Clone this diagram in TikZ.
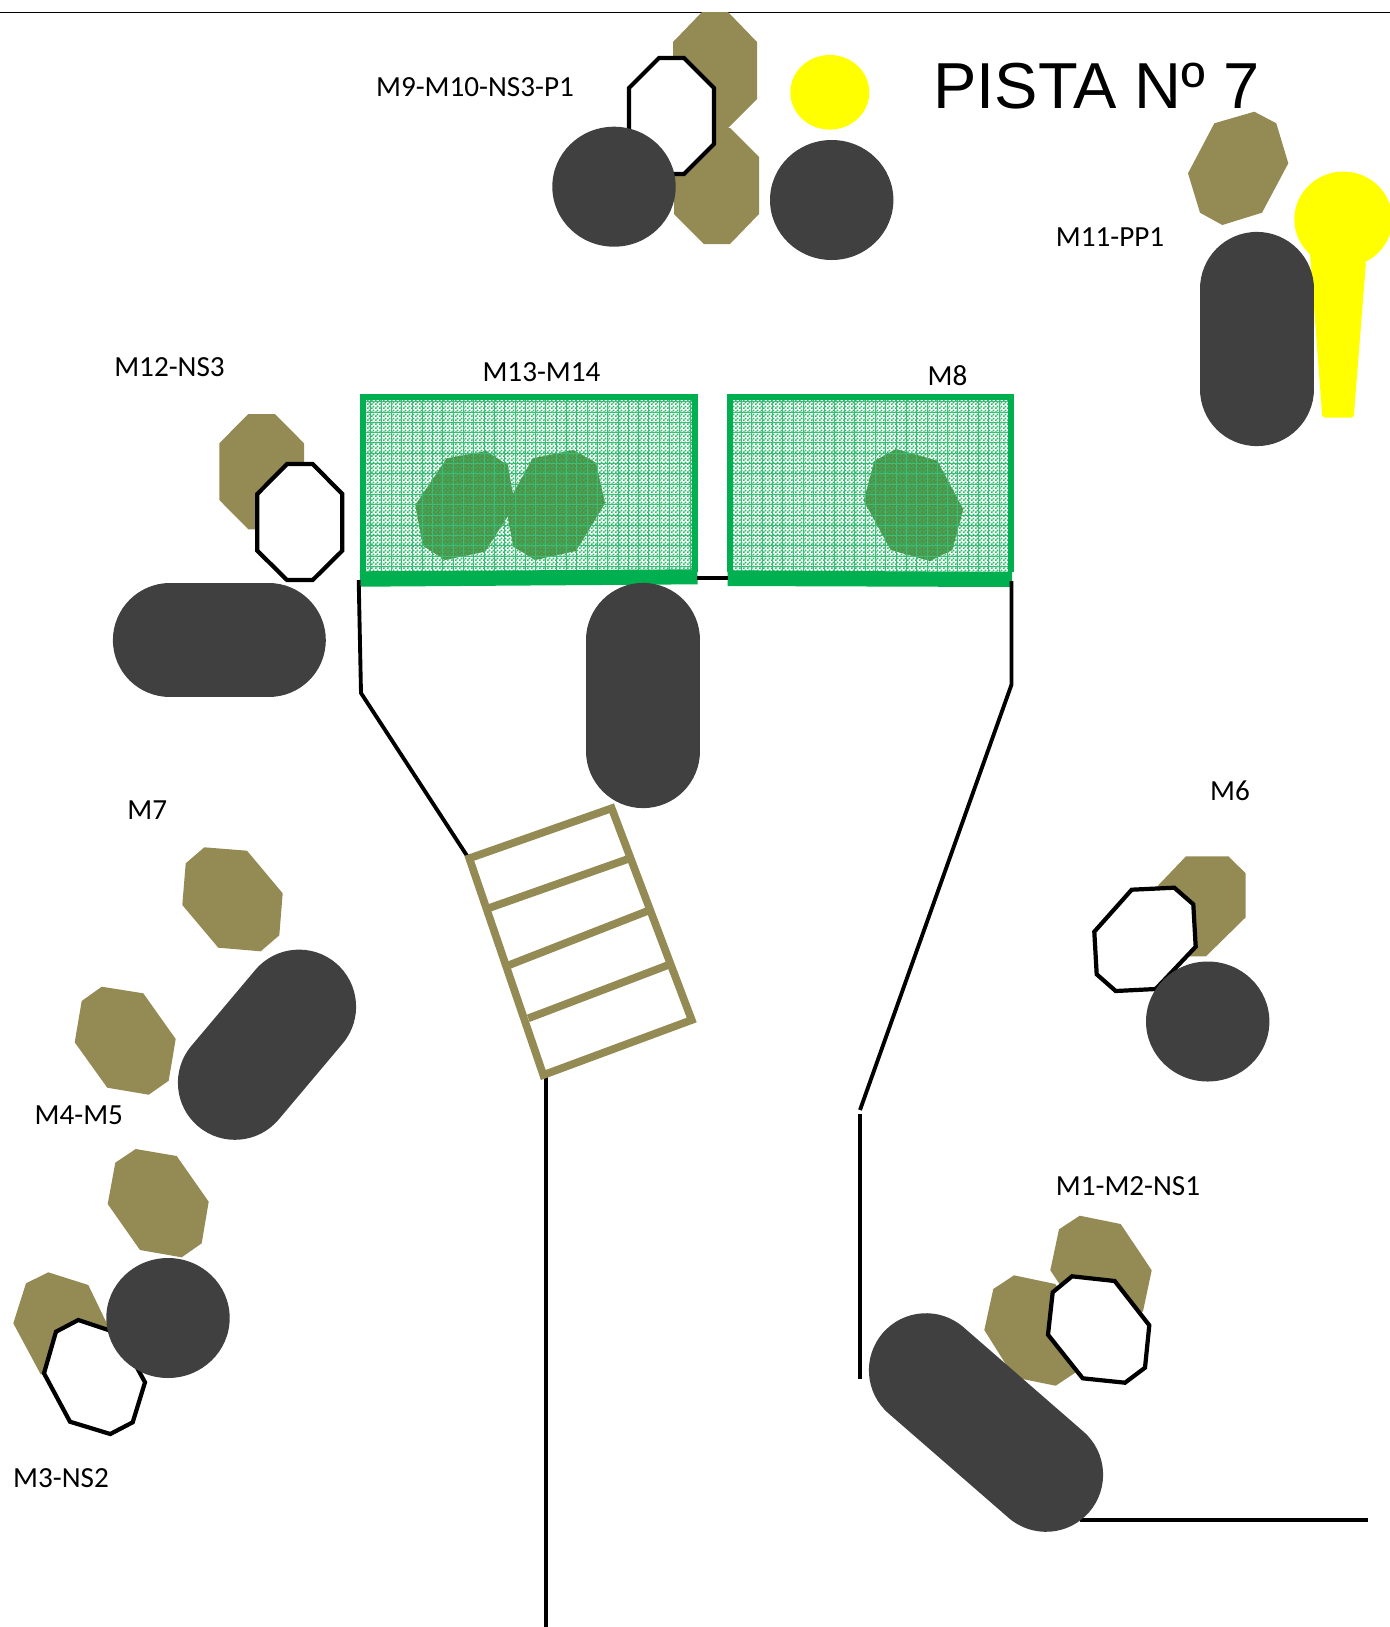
\documentclass[tikz,border=0pt]{standalone}
\usepackage{fontspec}
\setmainfont{Carlito}
\newfontfamily\titlefont{Liberation Sans}
\usepackage{xcolor}
\usetikzlibrary{positioning, patterns}
\definecolor{myolive}{HTML}{948A54}
\definecolor{myleaf}{HTML}{5C8A42}
\definecolor{mydark}{HTML}{404040}
\definecolor{mygreen}{HTML}{00B050}
\definecolor{mycheck}{HTML}{28BC68}
\definecolor{mygrid}{HTML}{3DBB78}
\definecolor{mysun}{RGB}{255,255,0}
\pgfdeclarepatternformonly{finecheck}{\pgfqpoint{0pt}{0pt}}{\pgfqpoint{2.3pt}{2.3pt}}{\pgfqpoint{2.3pt}{2.3pt}}{
  \pgfpathrectangle{\pgfqpoint{0pt}{0pt}}{\pgfqpoint{1.15pt}{1.15pt}}
  \pgfpathrectangle{\pgfqpoint{1.15pt}{1.15pt}}{\pgfqpoint{1.15pt}{1.15pt}}
  \pgfusepath{fill}
}

\begin{document}
\begin{tikzpicture}[x=0.02cm, y=-0.02cm,
    olive/.style={fill=myolive},
    leaf/.style={fill=myleaf},
    ring/.style={draw=black, fill=white, line width=2.4pt, line join=miter},
    wall/.style={draw=black, line width=2.2pt},
    rung/.style={draw=myolive, line width=4.4pt},
    pill/.style={draw=mydark, line width=65pt, line cap=round},
    ball/.style={fill=mydark},
    field/.style={draw=mygreen, line width=3.4pt},
    bar/.style={fill=mygreen},
    tag/.style={font=\fontsize{16.6}{20}\selectfont, inner sep=0pt}]
    \useasboundingbox (0, 0) rectangle (1390, 1627);
    \draw[black, line width=0.8pt] (0, 12.5) -- (1390, 12.5);

    \fill[olive] (702, 12) -- (728, 12) -- (757, 42) -- (757, 99) -- (728, 128) -- (702, 128) -- (673, 99) -- (673, 42) -- cycle;
    \fill[olive] (704, 128) -- (730, 128) -- (759, 157) -- (759, 214) -- (730, 244) -- (704, 244) -- (674, 214) -- (674, 157) -- cycle;
    \filldraw[ring] (659, 58) -- (684, 58) -- (714, 88) -- (714, 144) -- (684, 174) -- (659, 174) -- (629, 144) -- (629, 88) -- cycle;
    \fill[ball] (614, 186.7) ellipse [x radius=61.7, y radius=60];
    \fill[ball] (831.7, 200) ellipse [x radius=61.7, y radius=60];
    \fill[mysun] (829.8, 92.3) ellipse [x radius=39.5, y radius=37.3];

    \fill[olive] (1254.3, 111.7) -- (1276.3, 123.3) -- (1288.3, 163.3) -- (1262, 212.7) -- (1222.3, 225) -- (1200, 212.7) -- (1188, 173.3) -- (1214.3, 123.3) -- cycle;
    \begin{scope}
      \clip (0, 0) rectangle (1390, 1627);
      \fill[mysun] (1343.3, 219.3) ellipse [x radius=49, y radius=47.7];
      \fill[mysun, rounded corners=1pt] (1310, 253) -- (1366, 261.7) -- (1353.7, 417.5) -- (1322.3, 417.5) -- cycle;
    \end{scope}
    \draw[pill] (1256.7, 289) -- (1256.7, 389);

    \fill[leaf] (446.7, 458.3) -- (486, 451) -- (507.7, 465) -- (515, 505) -- (485, 551.7) -- (445, 560) -- (422.7, 545.7) -- (415.3, 505) -- cycle;
    \fill[leaf] (532.7, 458.3) -- (573.3, 450) -- (596, 462.7) -- (605, 503.3) -- (576, 551) -- (535, 560) -- (513.3, 546.7) -- (505.7, 506.7) -- cycle;
    \fill[leaf] (896, 449) -- (937.3, 460.7) -- (963.3, 509.3) -- (952.3, 550) -- (930, 561) -- (890.7, 550) -- (863.7, 500.7) -- (874.3, 461) -- cycle;
    \fill[pattern=finecheck, pattern color=mycheck] (363.3, 397.3) rectangle (694.7, 575);
    \fill[pattern=finecheck, pattern color=mycheck] (730.3, 397.3) rectangle (1011.3, 575);
    \begin{scope}
      \clip (363.3, 397.3) rectangle (694.7, 575);
      \draw[mygrid, line width=0.5pt, xstep=10.3*0.02cm, ystep=10.3*0.02cm] (363.3, 397.3) grid (694.7, 575);
    \end{scope}
    \begin{scope}
      \clip (730.3, 397.3) rectangle (1011.3, 575);
      \draw[mygrid, line width=0.5pt, xstep=10.3*0.02cm, ystep=10.3*0.02cm] (730.3, 397.3) grid (1011.3, 575);
    \end{scope}
    \draw[field] (363.3, 572) -- (363.3, 397.3) -- (694.7, 397.3) -- (694.7, 572);
    \draw[field] (730.3, 572) -- (730.3, 397.3) -- (1011.3, 397.3) -- (1011.3, 572);
    \fill[bar] (359.7, 571.3) -- (697.3, 569.3) -- (697.7, 584.3) -- (360.7, 586.7) -- cycle;
    \fill[bar] (727.7, 570.3) -- (1012, 572) -- (1012, 587) -- (727.7, 586) -- cycle;
    \draw[wall] (697, 578.3) -- (728, 578.3);

    \fill[olive] (248.3, 414) -- (275, 414) -- (304, 443.3) -- (304, 500) -- (275, 529.3) -- (248.3, 529.3) -- (219.3, 500) -- (219.3, 443.3) -- cycle;
    \filldraw[ring] (287, 464) -- (312.7, 464) -- (342.3, 494) -- (342.3, 550.7) -- (312.7, 580) -- (287, 580) -- (257.3, 550.7) -- (257.3, 494) -- cycle;
    \draw[pill] (170, 640.3) -- (268.7, 640.3);
    \draw[pill] (643.2, 640) -- (643.2, 751);

    \draw[wall] (358.7, 580) -- (361, 693) -- (467.8, 857);
    \draw[wall] (1011.5, 581) -- (1011.5, 684.6) -- (860, 1110);
    \draw[wall] (860, 1114) -- (860, 1379);
    \draw[wall] (545.6, 1076) -- (545.6, 1627);

    \draw[rung] (469.3, 858.3) -- (611.7, 808.3) -- (691.7, 1020) -- (543.3, 1075) -- cycle;
    \draw[rung] (488.3, 908.3) -- (630, 858.3);
    \draw[rung] (509.3, 965) -- (648.3, 910.7);
    \draw[rung] (528.3, 1018.3) -- (668.3, 965);

    \fill[olive] (204.3, 847.3) -- (247, 850.7) -- (282.7, 893.3) -- (279.3, 935.3) -- (260.7, 951.3) -- (218.3, 947.7) -- (182.3, 905) -- (185.7, 863.3) -- cycle;
    \fill[olive] (101.7, 986.7) -- (143.3, 993.3) -- (175.7, 1039) -- (168.7, 1080.7) -- (148.7, 1094.7) -- (107.3, 1087.7) -- (74.7, 1042.3) -- (81.7, 1001) -- cycle;
    \draw[pill] (299, 1006.7) -- (235, 1082.7);

    \fill[olive] (135.7, 1149) -- (176.7, 1156) -- (208.7, 1201.7) -- (201.7, 1243.3) -- (181.7, 1257.3) -- (140, 1250) -- (107.7, 1204) -- (115.3, 1162.7) -- cycle;
    \fill[olive] (48.3, 1272.3) -- (88.3, 1285) -- (110, 1330) -- (100, 1363.3) -- (66.7, 1370) -- (40.7, 1374.3) -- (13.3, 1323.3) -- (26, 1283.3) -- cycle;
    \filldraw[ring] (78.3, 1320) -- (118.3, 1333.3) -- (145, 1382.3) -- (132.7, 1422.3) -- (110.3, 1434) -- (70, 1421.7) -- (44, 1373.3) -- (56, 1331.7) -- cycle;
    \fill[ball] (168, 1318) ellipse [x radius=61.7, y radius=60];

    \fill[olive] (1186, 856.3) -- (1228.3, 856.3) -- (1245.7, 873.3) -- (1245.7, 917.3) -- (1206, 956.3) -- (1163, 956.3) -- (1147, 940) -- (1147, 897) -- cycle;
    \filldraw[ring] (1131.7, 889.7) -- (1174.3, 887.7) -- (1193.3, 904.3) -- (1195.7, 946.7) -- (1155.7, 989) -- (1115.7, 991) -- (1096.7, 974.3) -- (1094.3, 931.7) -- cycle;
    \fill[ball] (1207.7, 1021.5) ellipse [x radius=61.7, y radius=60];

    \fill[olive] (1079.7, 1215.7) -- (1120.7, 1224) -- (1151.7, 1270.3) -- (1143, 1311.3) -- (1122.3, 1325) -- (1081.3, 1316.7) -- (1050.3, 1270.3) -- (1059, 1229.3) -- cycle;
    \fill[olive] (1014, 1275.3) -- (1055.3, 1284) -- (1085.3, 1330) -- (1076.7, 1371.7) -- (1055.7, 1385.7) -- (1014, 1377.3) -- (984.3, 1330) -- (993.3, 1289) -- cycle;
    \filldraw[ring] (1072, 1276.3) -- (1114.7, 1281) -- (1149.3, 1325.3) -- (1145, 1367.7) -- (1125, 1382.7) -- (1082.7, 1378.3) -- (1048, 1334.7) -- (1052.7, 1292.3) -- cycle;
    \draw[wall] (1080, 1520) -- (1368.3, 1520);
    \draw[pill] (926, 1370.3) -- (1046, 1474.7);

    \node[inner sep=0pt, font=\titlefont\fontsize{37}{44}\selectfont] (title) at (1096.5, 86) {PISTA Nº 7};
    \node[tag] (m9) at (475, 87.5) {M9-M10-NS3-P1};
    \node[tag] (m11) at (1110, 237.5) {M11-PP1};
    \node[tag] (m12) at (169.5, 367) {M12-NS3};
    \node[tag] (m13) at (541.5, 372) {M13-M14};
    \node[tag] (m8) at (947.5, 375.5) {M8};
    \node[tag] (m7) at (147.3, 810) {M7};
    \node[tag] (m6) at (1230, 791) {M6};
    \node[tag] (m4) at (78.8, 1115) {M4-M5};
    \node[tag] (m1) at (1128, 1186.5) {M1-M2-NS1};
    \node[tag] (m3) at (61, 1478) {M3-NS2};
  \end{tikzpicture}
\end{document}
